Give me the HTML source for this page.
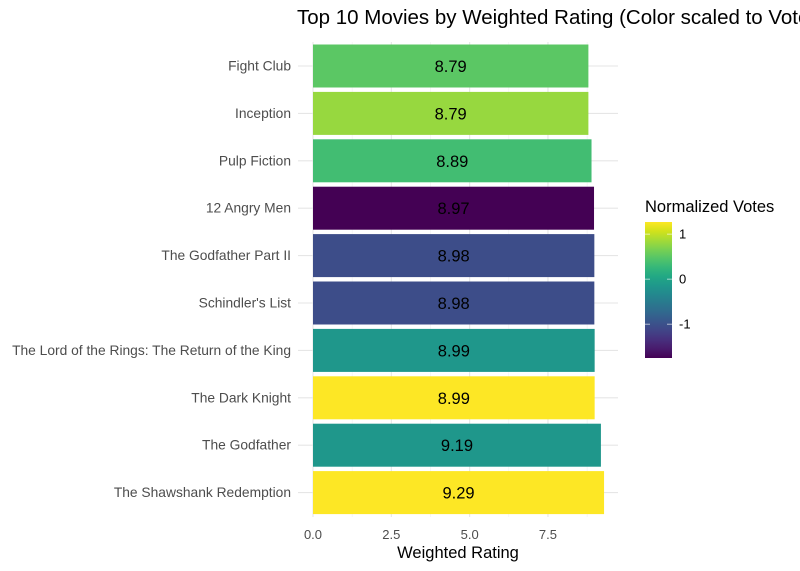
<!DOCTYPE html>
<html><head><meta charset="utf-8"><style>
body{margin:0;background:#fff;}
svg{display:block;font-family:"Liberation Sans",sans-serif;}
</style></head><body>
<svg id="c" width="800" height="571"></svg>
<script>
const movies=["Fight Club","Inception","Pulp Fiction","12 Angry Men","The Godfather Part II","Schindler's List","The Lord of the Rings: The Return of the King","The Dark Knight","The Godfather","The Shawshank Redemption"];
const ratings=[8.79,8.79,8.89,8.97,8.98,8.98,8.99,8.99,9.19,9.29];
const votes=[0.5,0.8,0.35,-1.75,-1.05,-1.05,-0.15,1.27,-0.15,1.27];
const xTicks=[0,2.5,5,7.5];
const cbTicks=[1,0,-1];
const NS="http://www.w3.org/2000/svg";
const svg=document.getElementById('c');
function mk(t,a,p){const e=document.createElementNS(NS,t);for(const k in a)e.setAttribute(k,a[k]);(p||svg).appendChild(e);return e;}
const vir=["#440154","#481a6c","#472f7d","#414487","#39568c","#31688e","#2a788e","#23888e","#1f988b","#22a884","#35b779","#54c568","#7ad151","#a5db36","#d2e21b","#fde725"];
function hex(h){return [1,3,5].map(i=>parseInt(h.substr(i,2),16));}
const vmin=-1.75,vmax=1.27;
function col(v){let t=(v-vmin)/(vmax-vmin);t=Math.max(0,Math.min(1,t));const s=t*(vir.length-1);const i=Math.min(Math.floor(s),vir.length-2);const f=s-i;const a=hex(vir[i]),b=hex(vir[i+1]);return "rgb("+a.map((x,j)=>Math.round(x+(b[j]-x)*f)).join(",")+")";}
const px0=298,px1=618,x0=313,k=31.33;
const X=v=>x0+v*k;
const pTop=42,step=47.4,bh=43;
const Y=i=>66+i*step;
for(let v=1.25;v<10;v+=2.5){const g=mk('line',{x1:X(v),x2:X(v),y1:pTop,y2:517,stroke:'#f0f0f0','stroke-width':0.6});}
xTicks.forEach(v=>{const g=mk('line',{x1:X(v),x2:X(v),y1:pTop,y2:517,stroke:'#e6e6e6','stroke-width':1.1});
const t=mk('text',{x:X(v),y:539,'text-anchor':'middle','font-size':13,fill:'#4d4d4d'});t.textContent=v.toFixed(1);});
movies.forEach((m,i)=>{const g=mk('line',{x1:px0,x2:px1,y1:Y(i),y2:Y(i),stroke:'#e6e6e6','stroke-width':1.1});
const r=mk('rect',{x:X(0),y:Y(i)-bh/2,width:X(ratings[i])-X(0),height:bh,fill:col(votes[i])});
const v=mk('text',{x:(X(0)+X(ratings[i]))/2,y:Y(i)+6,'text-anchor':'middle','font-size':16.5,fill:'#000'});v.textContent=ratings[i].toFixed(2);
const l=mk('text',{x:291,y:Y(i)+4.5,'text-anchor':'end','font-size':13.8,fill:'#4d4d4d'});l.textContent=m;});
const tt=mk('text',{x:297,y:24,'font-size':20.5,fill:'#000'});tt.textContent="Top 10 Movies by Weighted Rating (Color scaled to Votes)";
const xt=mk('text',{x:458,y:558,'text-anchor':'middle','font-size':16.5,fill:'#000'});xt.textContent="Weighted Rating";
const defs=mk('defs',{});const lg=mk('linearGradient',{id:'g',x1:0,y1:1,x2:0,y2:0},defs);
vir.forEach((c,i)=>mk('stop',{offset:i/(vir.length-1),'stop-color':c},lg));
const cbT=222,cbB=358,cbY=v=>cbB-(v-vmin)/(vmax-vmin)*(cbB-cbT);
const lt=mk('text',{x:645,y:212,'font-size':16.5,fill:'#000'});lt.textContent="Normalized Votes";
const cb=mk('rect',{x:645,y:cbT,width:27,height:cbB-cbT,fill:'url(#g)'});
cbTicks.forEach(v=>{mk('line',{x1:645,x2:650,y1:cbY(v),y2:cbY(v),stroke:'#fff','stroke-opacity':0.6});mk('line',{x1:667,x2:672,y1:cbY(v),y2:cbY(v),stroke:'#fff','stroke-opacity':0.6});
const t=mk('text',{x:679,y:cbY(v)+4.5,'font-size':13,fill:'#000'});t.textContent=v;});
</script>
</body></html>
